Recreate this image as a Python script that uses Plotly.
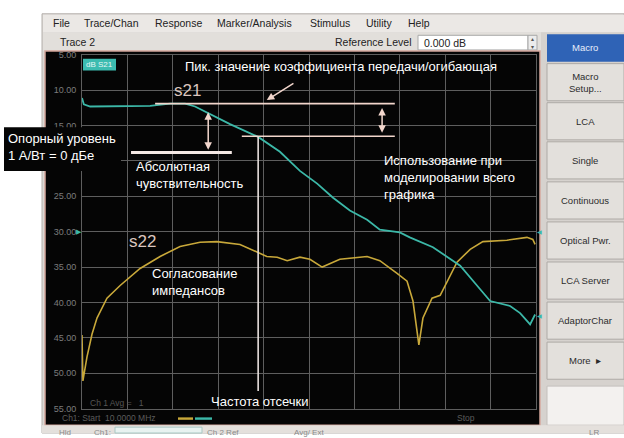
import plotly.graph_objects as go

W, H = 624, 438

# Sweep position across the ten grid divisions (start 10 MHz -> stop)
s21_pos = [0, 0.04, 0.18, 0.62, 1.06, 1.5, 1.94, 2.27, 2.49, 2.82, 3.26, 3.88, 4.36, 4.8,
           5.18, 5.53, 5.9, 6.28, 6.56, 7.0, 7.22, 7.73, 8.33, 8.7, 8.99, 9.43, 9.65, 9.87, 9.98]
# S21 magnitude, dB below reference (axis runs 5 .. 55 downward)
s21_db = [11.1, 12.0, 12.3, 12.3, 12.2, 12.2, 11.9, 11.9, 12.3, 13.4, 14.8, 16.6, 18.7, 21.4,
          23.2, 25.2, 27.0, 28.3, 29.7, 30.1, 30.8, 32.2, 34.8, 37.6, 39.8, 40.5, 41.5, 43.1, 41.7]

s22_pos = [0, 0.02, 0.11, 0.22, 0.33, 0.44, 0.55, 0.84, 1.28, 1.72, 2.16, 2.6, 2.97, 3.48,
           3.85, 4.07, 4.3, 4.52, 4.8, 5.02, 5.29, 5.68, 6.28, 6.56, 6.94, 7.16, 7.29, 7.42,
           7.51, 7.71, 7.89, 8.04, 8.26, 8.55, 8.83, 9.36, 9.8, 9.93, 9.98]
s22_db = [44.6, 51.1, 47.7, 44.5, 42.2, 40.8, 39.4, 37.6, 35.2, 33.5, 32.1, 31.5, 31.4, 31.8,
          32.9, 33.5, 33.6, 34.1, 33.6, 33.9, 35.0, 33.9, 33.5, 34.1, 35.9, 37.0, 39.8, 46.0,
          42.2, 39.4, 39.0, 37.0, 34.3, 32.5, 31.4, 31.2, 30.8, 31.1, 31.8]

y_ticks = [5, 10, 15, 20, 25, 30, 35, 40, 45, 50, 55]
# the 20 dB label sits under the reference-level callout, so it is left blank
y_tick_text = ["5.00", "10.00", "15.00", "", "25.00", "30.00", "35.00",
               "40.00", "45.00", "50.00", "55.00"]

# Annotation levels (dB) and positions (divisions)
peak_db = 11.9
rolloff_db = 16.5
sensitivity_db = 18.8
cutoff_pos = 3.88

menu_items = [("File", 51), ("Trace/Chan", 82), ("Response", 153), ("Marker/Analysis", 215),
              ("Stimulus", 308), ("Utility", 364), ("Help", 406)]
softkeys = ["Macro<br>Setup...", "LCA", "Single", "Continuous", "Optical Pwr.",
            "LCA Server", "AdaptorChar", "More  ▸"]
softkey_tops = [60, 100, 140, 181, 222, 263, 304, 345]

TEAL = "#3cb8a8"
GOLD = "#c8a83a"
PINK = "#f2d6cc"
UI = "Liberation Sans, Arial, sans-serif"


def px(x):
    return x / W


def py(y):
    return 1 - y / H


def rect(x0, y0, x1, y1, fill, line=None, lw=1, layer="below"):
    return dict(type="rect", xref="paper", yref="paper", x0=px(x0), x1=px(x1),
                y0=py(y1), y1=py(y0), fillcolor=fill, layer=layer,
                line=dict(color=line or fill, width=lw if line else 0))


def label(text, x, y, size=13, color="white", xanchor="left", align="left", family=UI):
    return dict(text=text, xref="paper", yref="paper", x=px(x), y=py(y), showarrow=False,
                xanchor=xanchor, yanchor="middle", align=align,
                font=dict(size=size, color=color, family=family))


fig = go.Figure()
fig.add_trace(go.Scatter(x=s22_pos, y=s22_db, mode="lines", name="S22",
                         line=dict(color=GOLD, width=1.6), hoverinfo="skip"))
fig.add_trace(go.Scatter(x=s21_pos, y=s21_db, mode="lines", name="S21",
                         line=dict(color=TEAL, width=1.8), hoverinfo="skip"))

shapes = [
    # analyzer window, menu bar and toolbar
    rect(42, 9, 624, 438, "#dcd8d4", "#b4b0ac"),
    rect(43, 10, 624, 28, "#ebe8e5"),
    rect(43, 28, 624, 47, "#e2dfdb"),
    rect(418, 31, 528, 46, "#ffffff", "#a8a8a8"),
    rect(528, 31, 537, 46, "#ececec", "#a8a8a8"),
    # measurement screen
    rect(45, 47, 540, 430, "#050505", "#d4a69c", 1.5),
    # softkey panel
    rect(541, 28, 624, 432, "#d6d2ce"),
    rect(547, 30, 624, 58, "#2f63b6"),
    rect(547, 390, 624, 430, "#f3f1ef", "#c4c0bc"),
    rect(42, 430, 624, 438, "#e4e0dc"),
    rect(115, 432, 202, 438, "#e8f2f0", "#a8c8c4"),
    # reference-level callout box, laid over the screen edge
    rect(4, 125, 121, 170, "#050505", layer="above"),
    # trace tag and footer legend strokes
    rect(83, 55, 116, 67, "#3cbcb0"),
    rect(178, 422, 193, 424.5, GOLD),
    rect(195, 422, 212, 424.5, TEAL),
]
for top in softkey_tops:
    shapes.append(rect(547, top, 624, top + 38, "#e3e0dc", "#aeaaa6"))

# chart markup drawn in data space
line_style = dict(color=PINK, width=1.6)
shapes += [
    dict(type="line", xref="x", yref="y", x0=1.61, x1=6.89, y0=peak_db, y1=peak_db,
         line=line_style, layer="above"),
    dict(type="line", xref="x", yref="y", x0=3.52, x1=6.89, y0=rolloff_db, y1=rolloff_db,
         line=line_style, layer="above"),
    dict(type="line", xref="x", yref="y", x0=1.08, x1=3.30, y0=sensitivity_db,
         y1=sensitivity_db, line=dict(color="#f4e8e4", width=3), layer="above"),
    dict(type="line", xref="x", yref="y", x0=cutoff_pos, x1=cutoff_pos, y0=rolloff_db,
         y1=52.5, line=dict(color="#e8e0de", width=1.6), layer="above"),
]

annotations = []
for name, x in menu_items:
    annotations.append(label(name, x, 18, size=10.5, color="#222222"))
annotations += [
    label("Trace 2", 58, 38, size=10.5, color="#222222"),
    label("Reference Level", 413, 38, size=10.5, color="#222222", xanchor="right"),
    label("0.000 dB", 422, 38.5, size=10.5, color="#222222"),
    label("▴", 532.5, 34.5, size=6, color="#555555", xanchor="center"),
    label("▾", 532.5, 42.5, size=6, color="#555555", xanchor="center"),
    label("Macro", 585, 44, size=9.5, color="#e8eefa", xanchor="center"),
    label("dB S21", 99.5, 61, size=8, color="#e6f6f4", xanchor="center"),
    label("Ch 1 Avg =   1", 88, 407, size=8.5, color="#555555"),
    label("Ch1: Start  10.0000 MHz", 60, 423, size=8.5, color="#5c5c5c"),
    label("Stop", 455, 423, size=8.5, color="#5c5c5c"),
    label("Hld", 57, 437, size=8, color="#8a8a8a"),
    label("Ch1:", 92, 437, size=8, color="#8a8a8a"),
    label("Ch 2 Ref", 205, 437, size=8, color="#8a8a8a"),
    label("Avg/ Ext", 292, 437, size=8, color="#8a8a8a"),
    label("LR", 587, 437, size=8, color="#8a8a8a"),
    label("▶", 79, 232, size=7, color=TEAL, xanchor="center"),
    label("◀", 539, 232, size=6, color=TEAL, xanchor="center"),
    label("◀", 539, 318, size=6, color=TEAL, xanchor="center"),
]
for text, top in zip(softkeys, softkey_tops):
    annotations.append(label(text, 585, top + 19, size=9.5, color="#2c2c2c",
                             xanchor="center", align="center"))

# explanatory labels
annotations += [
    label("Пик. значение коэффициента передачи/огибающая", 183, 63),
    label("s21", 172, 88, size=17, color="#dcc6be"),
    label("s22", 127, 242, size=17, color="#dcc6be"),
    label("Абсолютная<br>чувствительность", 134, 174),
    label("Использование при<br>моделировании всего<br>графика", 382, 177),
    label("Согласование<br>импедансов", 150, 283),
    label("Частота отсечки", 209, 406),
    label("Опорный уровень<br>1 А/Вт = 0 дБе", 6, 145),
]

arrow_style = dict(arrowcolor=PINK, arrowwidth=1.5, arrowsize=1, showarrow=True, text="")
annotations += [
    dict(x=4.07, y=11.4, ax=4.69, ay=8.9, xref="x", yref="y", axref="x", ayref="y",
         arrowhead=2, **arrow_style),
    dict(x=2.78, y=18.4, ax=2.78, ay=12.9, xref="x", yref="y", axref="x", ayref="y",
         arrowhead=2, startarrowhead=2, arrowside="end+start", **arrow_style),
    dict(x=6.61, y=16.0, ax=6.61, ay=12.3, xref="x", yref="y", axref="x", ayref="y",
         arrowhead=2, startarrowhead=2, arrowside="end+start", **arrow_style),
]

grid = "#5e5e5e"
fig.update_layout(
    width=W, height=H, margin=dict(l=0, r=0, t=0, b=0),
    paper_bgcolor="white", plot_bgcolor="#050505", showlegend=False,
    shapes=shapes, annotations=annotations,
    xaxis=dict(domain=[px(82), px(536)], range=[0, 10], dtick=1, tick0=0,
               showgrid=True, gridcolor=grid, gridwidth=1, zeroline=False,
               showticklabels=False, showline=True, linecolor=grid, mirror=True,
               fixedrange=True),
    yaxis=dict(domain=[py(413), py(51)], range=[55, 5], tickvals=y_ticks,
               ticktext=y_tick_text, showgrid=True, gridcolor=grid, gridwidth=1,
               zeroline=False, showline=True, linecolor=grid, mirror=True,
               tickfont=dict(size=9, color="#7c7c7c", family=UI), ticklabelstandoff=3,
               fixedrange=True),
)

fig.write_html("out.html")
